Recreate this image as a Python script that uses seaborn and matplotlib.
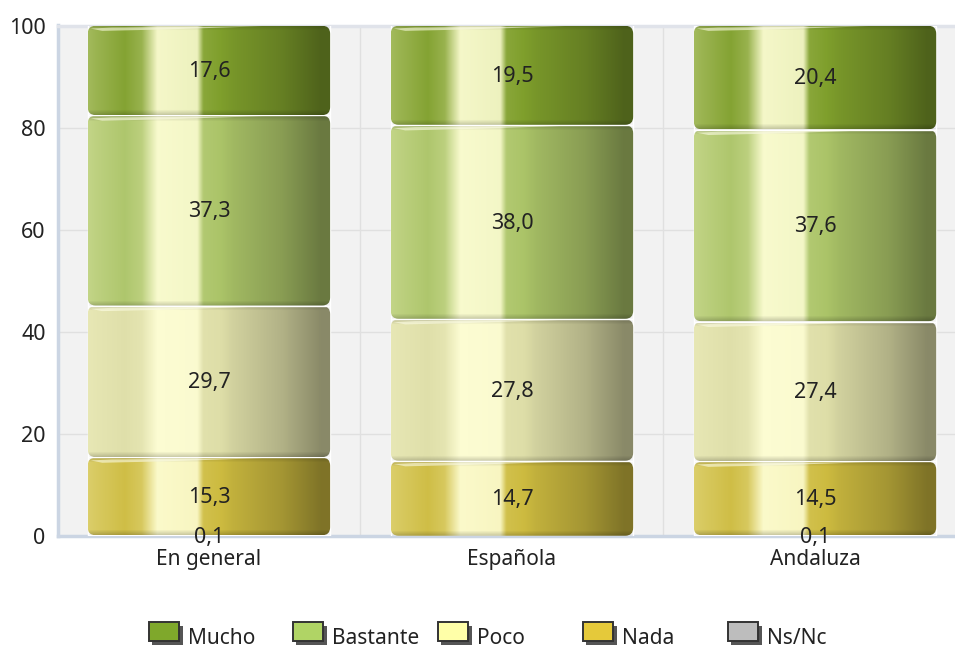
import matplotlib
matplotlib.use("Agg")
import matplotlib.pyplot as plt
from matplotlib.colors import to_rgb
from matplotlib.patches import FancyBboxPatch, Patch, Polygon
import matplotlib.patheffects as pe
import numpy as np
import seaborn as sns

categories = ["En general", "Española", "Andaluza"]
series_names = ["Ns/Nc", "Nada", "Poco", "Bastante", "Mucho"]  # bottom to top
ns_nc = [0.1, 0.0, 0.1]
nada = [15.3, 14.7, 14.5]
poco = [29.7, 27.8, 27.4]
bastante = [37.3, 38.0, 37.6]
mucho = [17.6, 19.5, 20.4]
legend_order = ["Mucho", "Bastante", "Poco", "Nada", "Ns/Nc"]

legend_colors = {"Mucho": "#7FA82B", "Bastante": "#B0D465", "Poco": "#FFFFA8",
                 "Nada": "#E5C93A", "Ns/Nc": "#BDBDBD"}
bar_colors = {"Mucho": "#7F9F2C", "Bastante": "#ABC468", "Poco": "#DEDEA8",
              "Nada": "#CDBB40", "Ns/Nc": "#BDBDBD"}
legend_x = [149, 293, 438, 583, 728]  # handle left edge, px

# shine across a bar: position, mix (+ towards pale yellow, - towards black)
shine_pos = [0, .03, .15, .22, .285, .45, .475, .6, .8, .96, 1]
shine_mix = [.28, .22, .04, .2, .92, .86, .08, -.06, -.2, -.38, -.38]
pale = np.array([1.0, 1.0, 0.84])

W, H = 955, 648
FONT = "Noto Sans"
INK = "#222222"

sns.set_theme(style="whitegrid")
plt.rcParams["font.family"] = [FONT, "DejaVu Sans"]

fig = plt.figure(figsize=(W / 100, H / 100), dpi=100, facecolor="white")
ax = fig.add_axes([58 / W, (H - 536) / H, (W - 58) / W, 510.5 / H])


def shaded(color, n_rows):
    base = np.array(to_rgb(color))
    xs = np.linspace(0, 1, 240)
    mix = np.interp(xs, shine_pos, shine_mix)
    row = np.where(mix[:, None] > 0,
                   base + (pale - base) * mix[:, None],
                   base * (1 + mix[:, None]))
    img = np.repeat(row[None, :, :], n_rows, axis=0)
    # darker rim on the top and bottom of each drum
    rim = np.ones(n_rows)
    k = min(6, n_rows // 2)
    rim[:k] = np.linspace(.84, 1, k)
    rim[-k:] = np.linspace(1, .82, k)
    return img * rim[:, None, None]


values = dict(zip(series_names, [ns_nc, nada, poco, bastante, mucho]))
bottom = np.zeros(len(categories))
for name in series_names:
    n_before = len(ax.patches)
    sns.barplot(x=categories, y=values[name], bottom=bottom, color=bar_colors[name],
                width=0.8, saturation=1, ax=ax, zorder=3, errorbar=None)
    bars = ax.patches[n_before:]
    for bar, val in zip(bars, values[name]):
        if val == 0:
            continue
        x0, y0 = bar.get_x(), bar.get_y()
        w, h = bar.get_width(), bar.get_height()
        if name != "Ns/Nc":
            bar.set_facecolor("none")
            top = y0 + h - 0.05
            low = y0 + 0.05
            im = ax.imshow(shaded(bar_colors[name], max(int(h * 5.1), 4)),
                           extent=[x0, x0 + w, low, top], aspect="auto", zorder=3,
                           interpolation="bilinear")
            clip = FancyBboxPatch((x0, low), w, top - low,
                                  boxstyle="round,pad=0,rounding_size=0.026",
                                  mutation_aspect=60, transform=ax.transData,
                                  fc="none", ec="none")
            ax.add_patch(clip)
            im.set_clip_path(clip)
            # thin gloss streak on the upper left of the drum
            ax.add_patch(Polygon([(x0 + .012 * w, top - .55), (x0 + .1 * w, top - .35),
                                  (x0 + .72 * w, top - .1), (x0 + .3 * w, top - .75),
                                  (x0 + .06 * w, top - 1.0)],
                                 closed=True, fc="#FFFFE8", ec="none", alpha=.6, zorder=4))
        ax.text(x0 + w / 2, y0 + h / 2 - .25, f"{val:.1f}".replace(".", ","), ha="center",
                va="center", fontsize=15.5, color=INK, zorder=6, clip_on=False)
    bottom = bottom + np.array(values[name])

ax.set_xlim(-0.498, 2.462)
ax.set_ylim(0, 100)
ax.set_facecolor("#F2F2F2")
ax.set_yticks([0, 20, 40, 60, 80, 100])
ax.set_xticks([0, 1, 2])
ax.set_xticks([0.5, 1.5], minor=True)
ax.grid(True, axis="y", color="#E0E0E0", lw=1, zorder=1)
ax.grid(False, axis="x", which="major")
ax.grid(True, axis="x", which="minor", color="#E0E0E0", lw=1, zorder=1)
ax.set_axisbelow(True)
ax.tick_params(axis="both", which="both", length=0, labelcolor=INK)
ax.tick_params(axis="y", labelsize=15.5, pad=9)
ax.tick_params(axis="x", labelsize=15, pad=21)
for label in ax.get_xticklabels():
    label.set_va("baseline")
for side, color, lw in [("left", "#CBD5E3", 2.5), ("bottom", "#CBD5E3", 2.5),
                        ("top", "#E0E3EA", 2.5)]:
    ax.spines[side].set_visible(True)
    ax.spines[side].set_color(color)
    ax.spines[side].set_linewidth(lw)
    ax.spines[side].set_zorder(2)
ax.spines["right"].set_visible(False)

shadow = [pe.SimplePatchShadow(offset=(2.5, -2.5), shadow_rgbFace="#555555", alpha=1), pe.Normal()]
for name, lx in zip(legend_order, legend_x):
    handle = Patch(fc=legend_colors[name], ec="#333333", lw=1.4, path_effects=shadow, label=name)
    leg = fig.legend(handles=[handle], loc="center left",
                     bbox_to_anchor=(lx / W, (H - 633) / H), frameon=False,
                     fontsize=15, handlelength=1.45, handleheight=1.05, handletextpad=0.4,
                     borderpad=0, borderaxespad=0, labelcolor=INK)
    leg.get_texts()[0].set_position((0, -5))

fig.savefig("out.png", dpi=100)
